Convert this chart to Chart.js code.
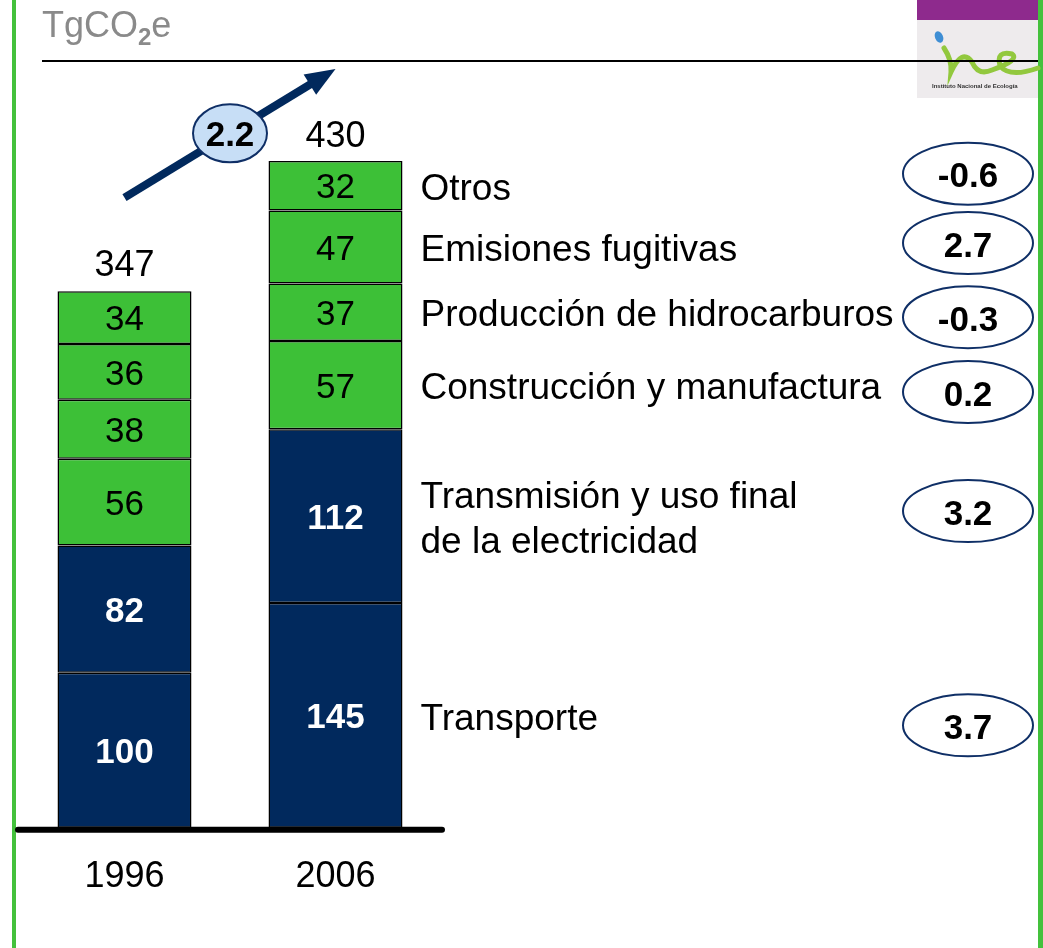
<!DOCTYPE html>
<html>
<head>
<meta charset="utf-8">
<script src="https://cdn.jsdelivr.net/npm/chart.js@4.4.0/dist/chart.umd.min.js"></script>
<style>
html, body { margin: 0; padding: 0; background: #fff; overflow: hidden; }
</style>
</head>
<body>
<canvas id="myChart" width="1043" height="948"></canvas>
<script>
// data
var years = ["1996", "2006"];
var sectors = [
    "Transporte",
    "Transmisión y uso final\nde la electricidad",
    "Construcción y manufactura",
    "Producción de hidrocarburos",
    "Emisiones fugitivas",
    "Otros"
];
var val1996 = [100, 82, 56, 38, 36, 34];
var val2006 = [145, 112, 57, 37, 47, 32];
var totals = [347, 430];
var growth = ["3.7", "3.2", "0.2", "-0.3", "2.7", "-0.6"];
var totalGrowth = "2.2";
var unitLabel = "TgCO";

var navy = "#01295d";
var green = "#3dc037";
var fam = "'Liberation Sans', Arial, sans-serif";

var sectorColors = [navy, navy, green, green, green, green];
// small vertical nudges of the growth ovals relative to their segment
var ovalShift = [10, -5, 7, 5, -4, -12];

var datasets = [];
for (var i = 0; i < sectors.length; i++) {
    datasets.push({
        label: sectors[i],
        data: [val1996[i], val2006[i]],
        backgroundColor: sectorColors[i],
        borderColor: "#000",
        borderWidth: 1.5,
        borderSkipped: false,
        barPercentage: 1,
        categoryPercentage: 0.635,
        clip: false
    });
}

function ellipse(ctx, cx, cy, rx, ry, fill, stroke, lw) {
    ctx.beginPath();
    ctx.ellipse(cx, cy, rx, ry, 0, 0, Math.PI * 2);
    if (fill) { ctx.fillStyle = fill; ctx.fill(); }
    ctx.lineWidth = lw;
    ctx.strokeStyle = stroke;
    ctx.stroke();
}

var decor = {
    id: "decor",
    afterDraw: function(chart) {
        var ctx = chart.ctx;
        var xs = chart.scales.x;
        var ys = chart.scales.y;
        ctx.save();

        // frame lines
        ctx.fillStyle = "#44c13c";
        ctx.fillRect(12, 0, 4, 948);
        ctx.fillRect(1038, 0, 5, 948);

        // logo
        ctx.fillStyle = "#8e2a8d";
        ctx.fillRect(917, 0, 121, 20);
        ctx.fillStyle = "#eeebed";
        ctx.fillRect(917, 20, 121, 78);
        ctx.fillStyle = "#3f8ed4";
        ctx.beginPath();
        ctx.ellipse(939, 37, 4, 6, -0.4, 0, Math.PI * 2);
        ctx.fill();
        ctx.strokeStyle = "#92c83e";
        ctx.lineWidth = 5;
        ctx.lineCap = "round";
        ctx.beginPath();
        ctx.moveTo(944, 48);
        ctx.quadraticCurveTo(952, 60, 951, 72);
        ctx.quadraticCurveTo(962, 48, 972, 62);
        ctx.quadraticCurveTo(978, 76, 992, 70);
        ctx.quadraticCurveTo(1020, 60, 1012, 54);
        ctx.quadraticCurveTo(996, 50, 1000, 66);
        ctx.quadraticCurveTo(1010, 78, 1038, 68);
        ctx.stroke();
        ctx.fillStyle = "#333";
        ctx.font = "bold 6px " + fam;
        ctx.textAlign = "left";
        ctx.textBaseline = "middle";
        ctx.fillText("Instituto Nacional de Ecología", 932, 86);

        // unit title
        ctx.fillStyle = "#8a8a8a";
        ctx.textBaseline = "alphabetic";
        ctx.font = "36px " + fam;
        ctx.fillText(unitLabel, 42, 37);
        var w = ctx.measureText(unitLabel).width;
        ctx.font = "bold 24px " + fam;
        ctx.fillText("2", 42 + w, 45);
        var w2 = ctx.measureText("2").width;
        ctx.font = "36px " + fam;
        ctx.fillText("e", 42 + w + w2, 37);

        // rule under title
        ctx.fillStyle = "#000";
        ctx.fillRect(42, 60, 996, 2);

        // baseline
        var y0 = ys.getPixelForValue(0);
        ctx.strokeStyle = "#000";
        ctx.lineWidth = 6;
        ctx.lineCap = "round";
        ctx.beginPath();
        ctx.moveTo(18, y0 + 2);
        ctx.lineTo(442, y0 + 2);
        ctx.stroke();

        // values inside segments
        ctx.textAlign = "center";
        ctx.textBaseline = "middle";
        for (var d = 0; d < chart.data.datasets.length; d++) {
            var meta = chart.getDatasetMeta(d);
            var dark = sectorColors[d] === navy;
            for (var j = 0; j < meta.data.length; j++) {
                var el = meta.data[j];
                ctx.fillStyle = dark ? "#fff" : "#000";
                ctx.font = (dark ? "bold 35px " : "35px ") + fam;
                ctx.fillText(String(chart.data.datasets[d].data[j]), el.x, (el.y + el.base) / 2 + 3);
            }
        }

        // totals above bars
        var topMeta = chart.getDatasetMeta(chart.data.datasets.length - 1);
        ctx.fillStyle = "#000";
        ctx.font = "36px " + fam;
        for (var t = 0; t < totals.length; t++) {
            ctx.fillText(String(totals[t]), topMeta.data[t].x, ys.getPixelForValue(totals[t]) - 24);
        }

        // sector labels and growth ovals next to the 2006 bar
        for (var s = 0; s < sectors.length; s++) {
            var e = chart.getDatasetMeta(s).data[1];
            var cy = (e.y + e.base) / 2;
            var lx = e.x + e.width / 2 + 18;
            var lines = sectors[s].split("\n");
            ctx.textAlign = "left";
            ctx.fillStyle = "#000";
            ctx.font = "37px " + fam;
            for (var k = 0; k < lines.length; k++) {
                ctx.fillText(lines[k], lx, cy + 4 + (k - (lines.length - 1) / 2) * 45);
            }
            var oy = cy + ovalShift[s];
            ellipse(ctx, 968, oy, 65, 31, "#fff", "#0f2f66", 2);
            ctx.fillStyle = "#000";
            ctx.textAlign = "center";
            ctx.font = "bold 35px " + fam;
            ctx.fillText(growth[s], 968, oy + 4);
        }

        // growth arrow
        var ax0 = xs.getPixelForValue(0), ay0 = ys.getPixelForValue(totals[0]) - 92;
        var ax1 = xs.getPixelForValue(1), ay1 = ys.getPixelForValue(totals[1]) - 92;
        var ang = Math.atan2(ay1 - ay0, ax1 - ax0);
        var hl = 30;
        ctx.strokeStyle = navy;
        ctx.lineWidth = 8;
        ctx.lineCap = "butt";
        ctx.beginPath();
        ctx.moveTo(ax0, ay0);
        ctx.lineTo(ax1 - Math.cos(ang) * (hl - 4), ay1 - Math.sin(ang) * (hl - 4));
        ctx.stroke();
        ctx.fillStyle = navy;
        ctx.beginPath();
        ctx.moveTo(ax1, ay1);
        ctx.lineTo(ax1 - hl * Math.cos(ang) + 12 * Math.sin(ang), ay1 - hl * Math.sin(ang) - 12 * Math.cos(ang));
        ctx.lineTo(ax1 - hl * Math.cos(ang) - 12 * Math.sin(ang), ay1 - hl * Math.sin(ang) + 12 * Math.cos(ang));
        ctx.closePath();
        ctx.fill();
        var mx = (ax0 + ax1) / 2, my = (ay0 + ay1) / 2;
        ellipse(ctx, mx, my, 37, 29, "#c7def6", "#0f2f66", 2);
        ctx.fillStyle = "#000";
        ctx.textAlign = "center";
        ctx.font = "bold 35px " + fam;
        ctx.fillText(totalGrowth, mx, my + 3);

        ctx.restore();
    }
};

var myChart = new Chart(document.getElementById("myChart"), {
    type: "bar",
    data: { labels: years, datasets: datasets },
    options: {
        responsive: false,
        animation: false,
        devicePixelRatio: 1,
        layout: { padding: { left: 19, right: 602, top: 161, bottom: 21 } },
        plugins: { legend: { display: false }, tooltip: { enabled: false } },
        scales: {
            x: {
                stacked: true,
                grid: { display: false, drawTicks: false },
                border: { display: false },
                ticks: { color: "#000", font: { family: fam, size: 36 }, padding: 28 }
            },
            y: { stacked: true, display: false, min: 0, max: 430 }
        }
    },
    plugins: [decor]
});
</script>
</body>
</html>
